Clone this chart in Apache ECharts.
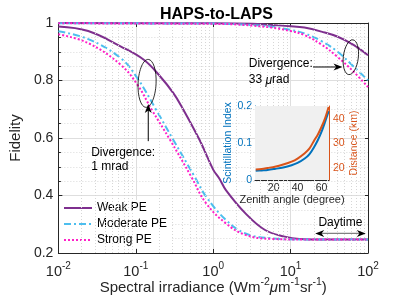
<!DOCTYPE html>
<html><head><meta charset="utf-8">
<script src="https://cdn.jsdelivr.net/npm/echarts@6/dist/echarts.min.js"></script>
<style>html,body{margin:0;padding:0;background:#fff}#c{width:406px;height:305px}</style>
</head><body><div id="c"></div>
<script>
// ---- data ----
const xTicks = [0.01, 0.1, 1, 10, 100];
const yTicks = [0.2, 0.4, 0.6, 0.8, 1];
// Divergence 1 mrad
const weak1mrad = [[0.01,0.988],[0.0243,0.972],[0.0644,0.918],[0.127,0.872],[0.207,0.814],[0.306,0.756],[0.39,0.71],[0.668,0.593],[1,0.49],[1.2,0.459],[1.46,0.419],[2.61,0.338],[4.68,0.28],[8.4,0.257],[13,0.249],[30,0.247],[100,0.247]];
const moderate1mrad = [[0.01,0.971],[0.0243,0.944],[0.0644,0.877],[0.105,0.808],[0.179,0.703],[0.306,0.593],[0.577,0.465],[0.81,0.396],[1.46,0.315],[2.61,0.268],[5.7,0.251],[15,0.247],[100,0.247]];
const strong1mrad = [[0.01,0.961],[0.0243,0.93],[0.0644,0.854],[0.105,0.785],[0.162,0.697],[0.278,0.593],[0.522,0.465],[0.81,0.373],[1.46,0.303],[2.61,0.263],[5.7,0.249],[15,0.247],[100,0.247]];
// Divergence 33 urad
const weak33urad = [[0.01,1.0],[1,0.999],[3.16,0.997],[5.7,0.993],[10,0.989],[15.1,0.984],[25.1,0.97],[40,0.953],[65,0.924],[100,0.888]];
const moderate33urad = [[0.01,0.999],[1,0.998],[2,0.996],[3.16,0.993],[5.7,0.987],[10,0.976],[15.1,0.964],[25.1,0.937],[40,0.901],[65,0.849],[100,0.801]];
const strong33urad = [[0.01,0.999],[1,0.997],[2,0.995],[3.16,0.991],[5.7,0.984],[10,0.972],[15.1,0.958],[25.1,0.925],[40,0.883],[65,0.831],[100,0.777]];
// inset
const zenith = [5,10,15,21,28,35,40,46,50,54,57,60,63,66];
const scintIndex = [0.025,0.026,0.027,0.030,0.034,0.040,0.046,0.058,0.070,0.090,0.108,0.130,0.157,0.186];
const distanceKm = [19.3,19.5,19.9,20.4,21.3,22.5,23.8,26.0,28.0,31.4,33.8,36.9,40.5,45.2];
const insetXTicks = [20,40,60];
const insetLeftTicks = [0,0.1,0.2];
const insetRightTicks = [20,30,40];

const names = ['Weak PE','Moderate PE','Strong PE'];
const colors = ['#7E2F8E','#4DBEEE','#FF1FC8'];
const dashes = ['solid',[7,3,2,3],[2,2]];

const FONT = '"Liberation Sans", Arial, Helvetica, sans-serif';
const AX = '#262626';

// minor log gridlines (positions of 2..9 x 10^k)
const minorLog = [];
for (let k = -2; k < 2; k++) for (let m = 2; m <= 9; m++) minorLog.push({xAxis: m * Math.pow(10, k)});

const chart = echarts.init(document.getElementById('c'), null, {renderer: 'canvas'});

function sup(v){ return '{b|10}{s|' + Math.round(Math.log10(v)) + '}'; }

const mainLines = [];
[[weak1mrad, weak33urad],[moderate1mrad, moderate33urad],[strong1mrad, strong33urad]].forEach((pair, i) => {
  pair.forEach(d => {
    mainLines.push({
      name: names[i], type: 'line', xAxisIndex: 0, yAxisIndex: 0, data: d,
      symbol: 'none', smooth: 0.4, z: 3 + i,
      lineStyle: {color: colors[i], width: 2, type: dashes[i]},
      itemStyle: {color: colors[i]}, silent: true
    });
  });
});

const option = {
  animation: false,
  backgroundColor: '#fff',
  textStyle: {fontFamily: FONT},
  title: {text: 'HAPS-to-LAPS', left: 155, top: 2, textStyle: {fontFamily: FONT, fontSize: 16, fontWeight: 'bold', color: '#000'}},
  legend: {
    data: names, orient: 'vertical', left: 59, top: 200, itemWidth: 28, itemHeight: 14, itemGap: 4,
    padding: [2, 4, 2, 4], backgroundColor: '#fff',
    itemStyle: {opacity: 0},
    textStyle: {fontFamily: FONT, fontSize: 12, color: '#000'}
  },
  grid: [
    {left: 53, right: 38, top: 23, bottom: 52, show: false},
    {left: 255, width: 74, top: 106, height: 74, show: true, backgroundColor: '#f0f0f0', borderWidth: 0, z: 10}
  ],
  xAxis: [
    {type: 'log', logBase: 10, gridIndex: 0, min: xTicks[0], max: xTicks[xTicks.length-1], position: 'bottom',
     axisLine: {lineStyle: {color: AX, width: 1}},
     axisTick: {inside: true, length: 4, lineStyle: {color: AX}},
     axisLabel: {formatter: sup, margin: 8, rich: {
       b: {fontFamily: FONT, fontSize: 14.5, color: AX},
       s: {fontFamily: FONT, fontSize: 10, color: AX, padding: [0, 0, 11, 0]}}},
     splitLine: {show: true, lineStyle: {color: '#dedede', width: 1}},
     minorTick: {show: false}, minorSplitLine: {show: false}},
    {type: 'log', logBase: 10, gridIndex: 0, min: xTicks[0], max: xTicks[xTicks.length-1], position: 'top',
     axisLine: {lineStyle: {color: AX, width: 1}}, axisTick: {inside: true, length: 4, lineStyle: {color: AX}},
     axisLabel: {show: false}, splitLine: {show: false}},
    {type: 'value', gridIndex: 1, min: 4.4, max: 66.3, position: 'bottom',
     name: 'Zenith angle (degree)', nameLocation: 'middle', nameGap: 13,
     nameTextStyle: {fontFamily: FONT, fontSize: 11, color: AX},
     axisLine: {lineStyle: {color: AX, width: 1}},
     axisTick: {show: false},
     axisLabel: {margin: 3, fontFamily: FONT, fontSize: 10.5, color: AX, showMinLabel: false, showMaxLabel: false,
       formatter: v => insetXTicks.indexOf(Math.round(v)) >= 0 && Math.abs(v - Math.round(v)) < 1e-6 ? String(Math.round(v)) : ''},
     splitLine: {show: true, lineStyle: {color: '#cfcfcf', type: [1, 2], width: 1}}}
  ],
  yAxis: [
    {type: 'value', gridIndex: 0, min: yTicks[0], max: yTicks[yTicks.length-1], interval: 0.2, position: 'left',
     name: 'Fidelity', nameLocation: 'middle', nameGap: 26, nameRotate: 90,
     nameTextStyle: {fontFamily: FONT, fontSize: 15, color: AX},
     axisLine: {show: true, lineStyle: {color: AX, width: 1}},
     axisTick: {show: true, inside: true, length: 4, lineStyle: {color: AX}},
     axisLabel: {fontFamily: FONT, fontSize: 14, color: AX, margin: 5, formatter: v => String(+v.toFixed(1))},
     minorTick: {show: true, splitNumber: 4, length: 2.5, lineStyle: {color: AX}},
     splitLine: {show: true, lineStyle: {color: '#dedede', width: 1}},
     minorSplitLine: {show: true, lineStyle: {color: '#dadada', type: [1, 2], width: 1}}},
    {type: 'value', gridIndex: 0, min: yTicks[0], max: yTicks[yTicks.length-1], interval: 0.2, position: 'right',
     axisLine: {show: true, lineStyle: {color: AX, width: 1}},
     axisTick: {show: true, inside: true, length: 4, lineStyle: {color: AX}},
     axisLabel: {show: false}, splitLine: {show: false}},
    {type: 'value', gridIndex: 1, min: insetLeftTicks[0], max: insetLeftTicks[2], interval: 0.1, position: 'left',
     name: 'Scintillation Index', nameLocation: 'middle', nameGap: 17, nameRotate: 90,
     nameTextStyle: {fontFamily: FONT, fontSize: 10.5, color: '#0072BD'},
     axisLine: {show: true, lineStyle: {color: '#0072BD', width: 1}},
     axisTick: {show: false},
     axisLabel: {fontFamily: FONT, fontSize: 10.5, color: '#0072BD', margin: 3, formatter: v => String(+v.toFixed(1))},
     splitLine: {show: true, lineStyle: {color: '#cfcfcf', type: [1, 2], width: 1}}},
    {type: 'value', gridIndex: 1, min: 14.9, max: 45.6, position: 'right',
     name: 'Distance (km)', nameLocation: 'middle', nameGap: 18, nameRotate: 90,
     nameTextStyle: {fontFamily: FONT, fontSize: 10.5, color: '#D95319', verticalAlign: 'top'},
     axisLine: {show: true, lineStyle: {color: '#D95319', width: 1}},
     axisTick: {show: false},
     axisLabel: {fontFamily: FONT, fontSize: 10.5, color: '#D95319', margin: 4, showMinLabel: false, showMaxLabel: false,
       formatter: v => insetRightTicks.indexOf(Math.round(v)) >= 0 && Math.abs(v - Math.round(v)) < 1e-6 ? String(Math.round(v)) : ''},
     splitLine: {show: false}}
  ],
  series: [
    {type: 'line', xAxisIndex: 0, yAxisIndex: 0, data: [], silent: true, z: 1,
     markLine: {silent: true, symbol: 'none', label: {show: false}, animation: false,
       lineStyle: {color: '#d6d6d6', type: [1, 2], width: 1}, data: minorLog}},
    ...mainLines,
    {name: 'scint', type: 'line', xAxisIndex: 2, yAxisIndex: 2, data: zenith.map((z, i) => [z, scintIndex[i]]),
     symbol: 'none', smooth: 0.3, lineStyle: {color: '#0072BD', width: 2}, z: 12, silent: true},
    {name: 'dist', type: 'line', xAxisIndex: 2, yAxisIndex: 3, data: zenith.map((z, i) => [z, distanceKm[i]]),
     symbol: 'none', smooth: 0.3, lineStyle: {color: '#D95319', width: 2}, z: 12, silent: true}
  ]
};
chart.setOption(option);

// ---- annotations anchored in data coordinates ----
function P(x, y){ return chart.convertToPixel({xAxisIndex: 0, yAxisIndex: 0}, [x, y]); }
function arrowHead(tip, dir, len, wid){
  const [dx, dy] = dir; const nx = -dy, ny = dx;
  const bx = tip[0] - dx * len, by = tip[1] - dy * len;
  const mx = tip[0] - dx * len * 0.7, my = tip[1] - dy * len * 0.7;
  return {type: 'polygon', z: 20, silent: true,
    shape: {points: [tip, [bx + nx * wid/2, by + ny * wid/2], [mx, my], [bx - nx * wid/2, by - ny * wid/2]]},
    style: {fill: '#000'}};
}
const e1 = P(0.14, 0.79), e2 = P(60, 0.881);
const a1tip = P(0.145, 0.718), a1tail = P(0.145, 0.589);
const a2tail = P(19.5, 0.847), a2tip = P(46.8, 0.847);
const dL = P(20.8, 0.268), dR = P(93.5, 0.268);
const t1 = P(0.0265, 0.524), t2 = P(2.88, 0.829), t3 = P(44, 0.305);
const xName = P(1, 0.2);
const els = [
  {type: 'ellipse', z: 20, silent: true, shape: {cx: 0, cy: 0, rx: 9, ry: 24}, x: e1[0], y: e1[1], rotation: -0.05,
   style: {fill: null, stroke: '#000', lineWidth: 0.8}},
  {type: 'ellipse', z: 20, silent: true, shape: {cx: 0, cy: 0, rx: 7.5, ry: 17.5}, x: e2[0], y: e2[1], rotation: -0.12,
   style: {fill: null, stroke: '#000', lineWidth: 0.8}},
  {type: 'line', z: 20, silent: true, shape: {x1: a1tail[0], y1: a1tail[1], x2: a1tip[0], y2: a1tip[1] + 4}, style: {stroke: '#000', lineWidth: 1}},
  arrowHead(a1tip, [0, -1], 9, 7),
  {type: 'line', z: 20, silent: true, shape: {x1: a2tail[0], y1: a2tail[1], x2: a2tip[0] - 4, y2: a2tip[1]}, style: {stroke: '#000', lineWidth: 1}},
  arrowHead(a2tip, [1, 0], 9, 7),
  {type: 'line', z: 20, silent: true, shape: {x1: dL[0] + 4, y1: dL[1], x2: dR[0] - 4, y2: dR[1]}, style: {stroke: '#808080', lineWidth: 1.2}},
  arrowHead(dL, [-1, 0], 9, 7),
  arrowHead(dR, [1, 0], 9, 7),
  {type: 'text', z: 20, silent: true, x: t1[0], y: t1[1], style: {text: 'Divergence:\n1 mrad', font: '12px ' + FONT, fill: '#000', lineHeight: 14.5, verticalAlign: 'middle'}},
  {type: 'text', z: 20, silent: true, x: t2[0], y: t2[1], style: {text: '{n|Divergence:}\n{n|33 }{mu|μ}{n|rad}', fill: '#000', verticalAlign: 'middle',
     rich: {n: {fontSize: 12, fontFamily: FONT, lineHeight: 16}, mu: {fontSize: 12, fontFamily: FONT, fontStyle: 'italic', lineHeight: 16}}}},
  {type: 'text', z: 20, silent: true, x: t3[0], y: t3[1], style: {text: 'Daytime', font: '12px ' + FONT, fill: '#000', align: 'center', verticalAlign: 'middle'}},
  {type: 'text', z: 20, silent: true, x: xName[0], y: xName[1] + 35, style: {
     text: '{n|Spectral irradiance (Wm}{s|-2}{mu|μ}{n|m}{s|-1}{n|sr}{s|-1}{n|)}', align: 'center', verticalAlign: 'middle',
     rich: {
       n: {fontFamily: FONT, fontSize: 15, fill: AX},
       mu: {fontFamily: FONT, fontSize: 15, fill: AX, fontStyle: 'italic'},
       s: {fontFamily: FONT, fontSize: 10.5, fill: AX, padding: [0, 0, 11, 0]}}}}
];
chart.setOption({graphic: els});
</script>
</body></html>
